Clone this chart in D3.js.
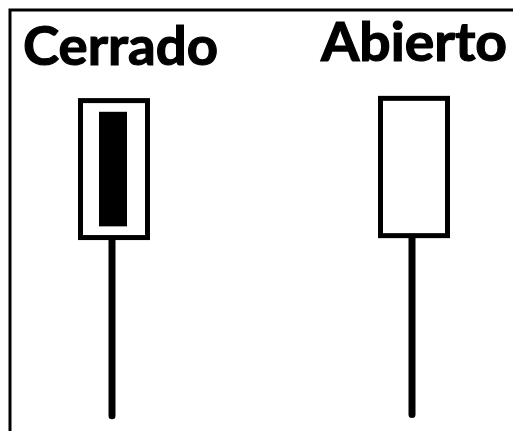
<!DOCTYPE html>
<html>
<head>
<meta charset="utf-8">
<script src="https://cdn.jsdelivr.net/npm/d3@7"></script>
<style>
  body { margin: 0; background: #fff; }
  svg { display: block; }
</style>
</head>
<body>
<script>
const w = 513;
const h = 431;

// candle data (abstract price units)
const names = ["Cerrado", "Abierto"];
const boxTop = [99.5, 100.2];
const boxBottom = [56.7, 57.3];
const fillTop = [96, null];
const fillBottom = [60.2, null];
const lows = [1, 1.4];

const candles = names.map((n, i) => ({
  name: n,
  top: boxTop[i],
  bottom: boxBottom[i],
  fTop: fillTop[i],
  fBottom: fillBottom[i],
  low: lows[i]
}));

const svg = d3.select("body")
  .append("svg")
  .attr("width", w)
  .attr("height", h);

// frame (only left and top edges are visible in the crop)
svg.append("path")
  .attr("d", "M10," + h + "V10H" + w)
  .attr("fill", "none")
  .attr("stroke", "#000")
  .attr("stroke-width", 3);

const x = d3.scalePoint()
  .domain(names)
  .range([114, 414]);

const y = d3.scaleLinear()
  .domain([0, 100])
  .range([419, 99]);

const boxW = 67;

const g = svg.append("g");

// wicks
g.selectAll("line.wick")
  .data(candles)
  .enter()
  .append("line")
  .attr("class", "wick")
  .attr("x1", d => x(d.name) - 2)
  .attr("x2", d => x(d.name) - 2)
  .attr("y1", d => y(d.bottom))
  .attr("y2", d => y(d.low))
  .attr("stroke", "#000")
  .attr("stroke-width", 7)
  .attr("stroke-linecap", "round");

// outer boxes
g.selectAll("rect.box")
  .data(candles)
  .enter()
  .append("rect")
  .attr("class", "box")
  .attr("x", d => x(d.name) - boxW / 2)
  .attr("y", d => y(d.top))
  .attr("width", boxW)
  .attr("height", d => y(d.bottom) - y(d.top))
  .attr("fill", "#fff")
  .attr("stroke", "#000")
  .attr("stroke-width", 5);

// filled inner body
g.selectAll("rect.body")
  .data(candles.filter(d => d.fTop != null))
  .enter()
  .append("rect")
  .attr("class", "body")
  .attr("x", d => x(d.name) - 15)
  .attr("y", d => y(d.fTop))
  .attr("width", 28)
  .attr("height", d => y(d.fBottom) - y(d.fTop))
  .attr("fill", "#000");

// titles
const labelPos = [
  { x: 23, y: 65, len: 195 },
  { x: 321, y: 61, len: 186 }
];

svg.selectAll("text.title")
  .data(names)
  .enter()
  .append("text")
  .attr("class", "title")
  .attr("x", (d, i) => labelPos[i].x)
  .attr("y", (d, i) => labelPos[i].y)
  .attr("textLength", (d, i) => labelPos[i].len)
  .attr("lengthAdjust", "spacingAndGlyphs")
  .style("font-family", "Lato, 'Open Sans', sans-serif")
  .style("font-weight", "bold")
  .style("font-size", "53px")
  .style("fill", "#000")
  .style("stroke", "#000")
  .style("stroke-width", 1.2)
  .text(d => d);
</script>
</body>
</html>
